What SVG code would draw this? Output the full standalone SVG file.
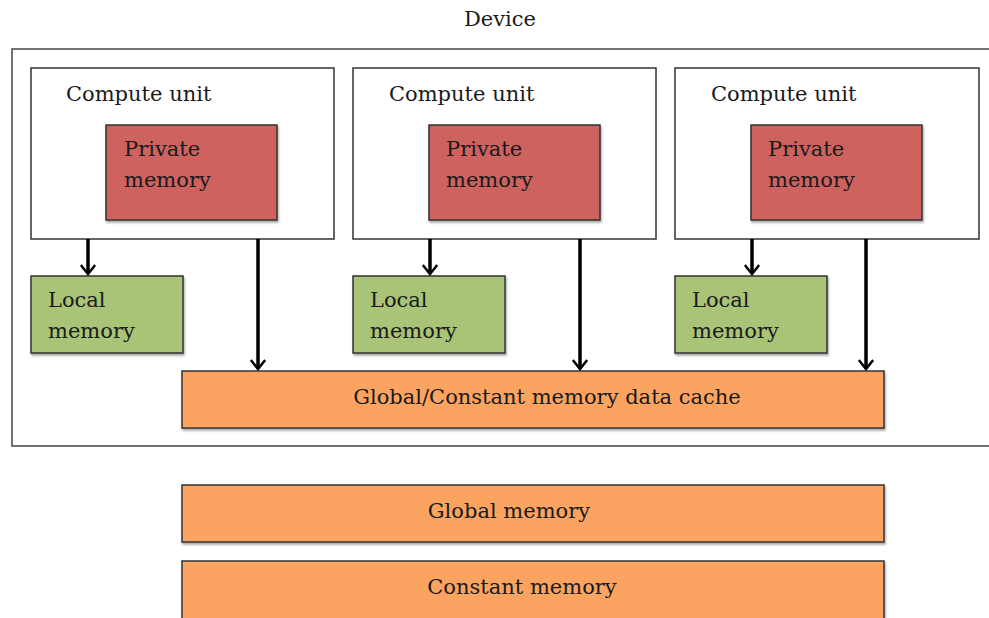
<svg xmlns="http://www.w3.org/2000/svg" width="989" height="618" viewBox="0 0 989 618">
<defs>
<style>
.t{font-family:"DejaVu Serif","Liberation Serif",serif;font-size:21px;fill:#1a1a1a}
.c{text-anchor:middle}
.box{stroke:#333;stroke-width:1.5}
.white{fill:#fff}
.red{fill:#CD625E}
.green{fill:#A9C476}
.orange{fill:#FBA462}
.arrow{stroke:#000;stroke-width:3.5;fill:none;marker-end:url(#ah)}
</style>
<marker id="ah" viewBox="0 0 10 14" refX="8.5" refY="7" markerWidth="3.4" markerHeight="4.8" orient="auto" markerUnits="strokeWidth">
<path d="M1,1 L8.5,7 L1,13" fill="none" stroke="#000" stroke-width="2"/>
</marker>
<filter id="sh" x="-5%" y="-5%" width="110%" height="120%">
<feDropShadow dx="1" dy="2" stdDeviation="1.2" flood-color="#000" flood-opacity="0.35"/>
</filter>
</defs>
<rect width="989" height="618" fill="#fff"/>
<g id="device">
<rect x="12" y="49" width="990" height="397" fill="#fff" stroke="#444" stroke-width="1.5"/>
<text class="t c" x="500" y="26">Device</text>
</g>
<g id="cu1">
<rect class="box white" x="31" y="68" width="303" height="171"/>
<text class="t" x="66" y="101">Compute unit</text>
</g>
<g id="pm1">
<rect class="box red" x="106" y="125" width="171" height="95" filter="url(#sh)"/>
<text class="t" x="124" y="156">Private</text>
<text class="t" x="124" y="187">memory</text>
</g>
<g id="cu2">
<rect class="box white" x="353" y="68" width="303" height="171"/>
<text class="t" x="389" y="101">Compute unit</text>
</g>
<g id="pm2">
<rect class="box red" x="429" y="125" width="171" height="95" filter="url(#sh)"/>
<text class="t" x="446" y="156">Private</text>
<text class="t" x="446" y="187">memory</text>
</g>
<g id="cu3">
<rect class="box white" x="675" y="68" width="304" height="171"/>
<text class="t" x="711" y="101">Compute unit</text>
</g>
<g id="pm3">
<rect class="box red" x="751" y="125" width="171" height="95" filter="url(#sh)"/>
<text class="t" x="768" y="156">Private</text>
<text class="t" x="768" y="187">memory</text>
</g>
<g id="lm1">
<rect class="box green" x="31" y="276" width="152" height="77" filter="url(#sh)"/>
<text class="t" x="48" y="307">Local</text>
<text class="t" x="48" y="338">memory</text>
</g>
<g id="lm2">
<rect class="box green" x="353" y="276" width="152" height="77" filter="url(#sh)"/>
<text class="t" x="370" y="307">Local</text>
<text class="t" x="370" y="338">memory</text>
</g>
<g id="lm3">
<rect class="box green" x="675" y="276" width="152" height="77" filter="url(#sh)"/>
<text class="t" x="692" y="307">Local</text>
<text class="t" x="692" y="338">memory</text>
</g>
<g id="cache">
<rect class="box orange" x="182" y="371" width="702" height="57" filter="url(#sh)"/>
<text class="t c" x="547" y="404">Global/Constant memory data cache</text>
</g>
<g id="global">
<rect class="box orange" x="182" y="485" width="702" height="57" filter="url(#sh)"/>
<text class="t c" x="509" y="518">Global memory</text>
</g>
<g id="constant">
<rect class="box orange" x="182" y="561" width="702" height="60" filter="url(#sh)"/>
<text class="t c" x="522" y="594">Constant memory</text>
</g>
<g id="connectors">
<line class="arrow" x1="88" y1="239" x2="88" y2="274"/>
<line class="arrow" x1="258" y1="239" x2="258" y2="369"/>
<line class="arrow" x1="430" y1="239" x2="430" y2="274"/>
<line class="arrow" x1="580" y1="239" x2="580" y2="369"/>
<line class="arrow" x1="752" y1="239" x2="752" y2="274"/>
<line class="arrow" x1="866" y1="239" x2="866" y2="369"/>
</g>
</svg>
